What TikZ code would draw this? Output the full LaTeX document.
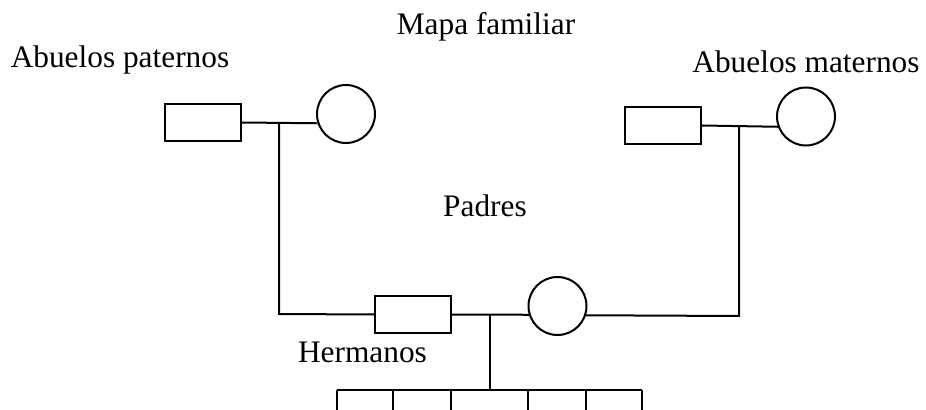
\documentclass[tikz,border=0pt]{standalone}
\usepackage{fontspec}
\setmainfont{Liberation Serif}
\begin{document}
\begin{tikzpicture}[x=0.75pt,y=-0.75pt, line width=1.5pt,
  man/.style={draw, rectangle, minimum width=57pt, minimum height=27.5pt, inner sep=0pt},
  woman/.style={draw, circle, minimum size=43.5pt, inner sep=0pt},
  lbl/.style={font=\fontsize{23.5}{28}\selectfont, inner sep=0pt, anchor=base}]
\useasboundingbox (0,0) rectangle (926,410);
% titles
\node[lbl] (title) at (486,35) {Mapa familiar};
\node[lbl] (tpat) at (120,68) {Abuelos paternos};
\node[lbl] (tmat) at (806,73) {Abuelos maternos};
\node[lbl] (tpad) at (485,217) {Padres};
\node[lbl] (ther) at (362.5,362) {Hermanos};
% paternal grandparents
\node[man] (rpat) at (203,122.5) {};
\node[woman] (cpat) at (346,114) {};
% maternal grandparents
\node[man] (rmat) at (663,125.5) {};
\node[woman] (cmat) at (806,116.5) {};
% parents
\node[man] (rpar) at (413,314.5) {};
\node[woman] (cpar) at (557.5,306) {};
% junctions
\coordinate (jpat) at (279,123);
\coordinate (jpat2) at (279,314);
\coordinate (jmat) at (739,127);
\coordinate (jmat2) at (739,316);
\coordinate (jpar) at (490,315);
\coordinate (jsib) at (490,390);
% sibling row
\coordinate (s1) at (337,390);
\coordinate (s2) at (393,390);
\coordinate (s3) at (451,390);
\coordinate (s4) at (528,390);
\coordinate (s5) at (586,390);
\coordinate (s6) at (642,390);
% connectors
\draw (rpat.east) -- (cpat.198);
\draw (rmat.east) -- (cmat.200);
\draw (rpar.east) -- (cpar.197);
\draw (jpat) -- (jpat2) -- (rpar.west);
\draw (jmat) -- (jmat2) -- (cpar.-18);
\draw (jpar) -- (jsib);
\draw (s1) -- (s6);
\foreach \s in {s1,s2,s3,s4,s5,s6} \draw (\s) -- ++(0,25);
\end{tikzpicture}
\end{document}
